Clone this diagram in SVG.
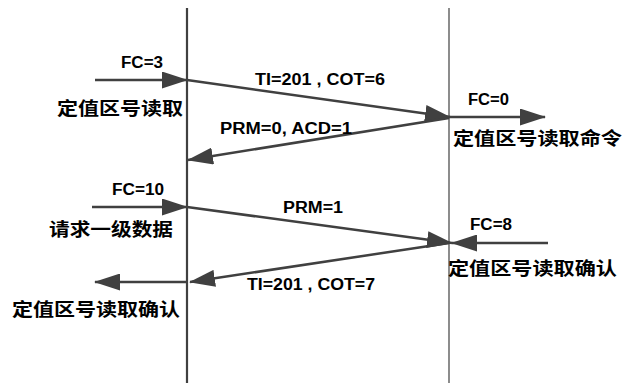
<svg xmlns="http://www.w3.org/2000/svg" width="624" height="385" viewBox="0 0 624 385">
<style>
.lbl{font-family:"Liberation Sans",Arial,sans-serif;font-weight:bold;font-size:16px;fill:#000}
.cn{font-family:"Noto Sans CJK SC","Noto Sans",sans-serif;font-weight:bold;font-size:18px;fill:#000}
.arr{stroke:#404040;stroke-width:2.5;fill:none;marker-end:url(#ah)}
</style>
<defs>
<marker id="ah" markerUnits="userSpaceOnUse" viewBox="0 0 26 17" refX="25" refY="8.5" markerWidth="26" markerHeight="17" orient="auto">
<path d="M0,0 L26,8.5 L0,17 Z" fill="#404040"/>
</marker>
</defs>
<rect width="624" height="385" fill="#fff"/>
<g id="lifeline-left"><line x1="187" y1="8" x2="187" y2="383" stroke="#404040" stroke-width="2.2"/></g>
<g id="lifeline-right"><line x1="449" y1="8" x2="449" y2="383" stroke="#404040" stroke-width="1.2"/></g>
<g id="connectors">
<line class="arr" x1="95" y1="80" x2="187" y2="80"/>
<line class="arr" x1="187" y1="80" x2="450" y2="117"/>
<line class="arr" x1="449" y1="118" x2="188" y2="160"/>
<line class="arr" x1="449" y1="117" x2="545" y2="117"/>
<line class="arr" x1="92" y1="207" x2="187" y2="207"/>
<line class="arr" x1="187" y1="207" x2="452" y2="243"/>
<line class="arr" x1="548" y1="243" x2="452" y2="243"/>
<line class="arr" x1="449" y1="243" x2="190" y2="282"/>
<line class="arr" x1="187" y1="282" x2="95" y2="282"/>
</g>
<g id="labels">
<text class="lbl" x="121" y="68" textLength="42" lengthAdjust="spacingAndGlyphs">FC=3</text>
<text class="cn" x="57" y="115" textLength="126" lengthAdjust="spacingAndGlyphs">定值区号读取</text>
<text class="lbl" x="255" y="85" textLength="130" lengthAdjust="spacingAndGlyphs">TI=201 , COT=6</text>
<text class="lbl" x="220" y="134" textLength="132" lengthAdjust="spacingAndGlyphs">PRM=0, ACD=1</text>
<text class="lbl" x="468" y="105" textLength="41" lengthAdjust="spacingAndGlyphs">FC=0</text>
<text class="cn" x="453" y="145" textLength="169" lengthAdjust="spacingAndGlyphs">定值区号读取命令</text>
<text class="lbl" x="112" y="195" textLength="52" lengthAdjust="spacingAndGlyphs">FC=10</text>
<text class="cn" x="49" y="236" textLength="124" lengthAdjust="spacingAndGlyphs">请求一级数据</text>
<text class="lbl" x="283" y="213" textLength="60" lengthAdjust="spacingAndGlyphs">PRM=1</text>
<text class="lbl" x="470" y="230" textLength="42" lengthAdjust="spacingAndGlyphs">FC=8</text>
<text class="cn" x="448" y="275" textLength="169" lengthAdjust="spacingAndGlyphs">定值区号读取确认</text>
<text class="lbl" x="247" y="290" textLength="128" lengthAdjust="spacingAndGlyphs">TI=201 , COT=7</text>
<text class="cn" x="12" y="316" textLength="168" lengthAdjust="spacingAndGlyphs">定值区号读取确认</text>
</g>
</svg>
